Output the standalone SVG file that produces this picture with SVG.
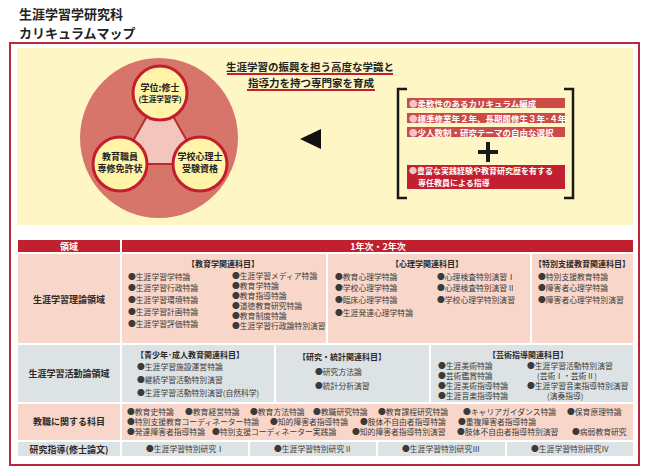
<svg xmlns="http://www.w3.org/2000/svg" width="650" height="472" viewBox="0 0 650 472">
<style>
text{font-family:"Noto Sans CJK JP","Noto Sans",sans-serif;}
.ttl{font-size:13px;font-weight:bold;fill:#222;}
.hl{font-size:10.5px;font-weight:bold;fill:#222;text-anchor:middle;}
.cir{font-size:9px;font-weight:bold;fill:#222;text-anchor:middle;}
.bar{font-size:8.5px;font-weight:bold;fill:#fff;}
.bar2{font-size:8px;font-weight:bold;fill:#fff;}
.bul{fill:#f6c6c6;}
.it{font-size:7.8px;fill:#3a3a3a;}
.hd{font-size:8px;font-weight:bold;fill:#2a2a2a;}
.hdm{font-size:8px;font-weight:bold;fill:#2a2a2a;text-anchor:middle;}
.lb{font-size:9px;font-weight:bold;fill:#2a2a2a;text-anchor:middle;}
.wh{font-size:9px;font-weight:bold;fill:#fff;text-anchor:middle;}
.pk{fill:#f8d6c9;}
.gy{fill:#dde2e4;}
.rb{fill:#c1202f;}
.ulh{stroke:#c1202f;stroke-width:2;}
.br{fill:none;stroke:#1a1a1a;stroke-width:2.5;}
.sc{fill:#fff4a8;stroke:#c41e2e;stroke-width:3;}
</style>

<g id="title">
<text class="ttl" x="19" y="19">生涯学習学研究科</text>
<text class="ttl" x="19" y="38">カリキュラムマップ</text>
</g>

<rect id="frame" x="10" y="43" width="629" height="422" fill="#fff" stroke="#b8283c" stroke-width="2"/>
<rect id="panel" x="17" y="48" width="616" height="177" fill="#fef6c5"/>

<g id="ellipse-group">
<ellipse cx="159" cy="138" rx="79" ry="80" fill="#d8756b"/>
</g>

<g id="connectors">
<polygon points="160,93 120,164 200,164" fill="#f3c6bd" stroke="#b72b35" stroke-width="2"/>
<polygon points="300,139 321,129 321,149" fill="#111"/>
</g>

<g id="node-degree">
<circle class="sc" cx="160" cy="93" r="27"/>
<text class="cir" x="160" y="91">学位:修士</text>
<text class="cir" x="160" y="102" style="font-size:7.5px">(生涯学習学)</text>
</g>
<g id="node-license">
<circle class="sc" cx="120" cy="164" r="27"/>
<text class="cir" x="120" y="160">教育職員</text>
<text class="cir" x="120" y="172">専修免許状</text>
</g>
<g id="node-psych">
<circle class="sc" cx="200" cy="164" r="27"/>
<text class="cir" x="200" y="160">学校心理士</text>
<text class="cir" x="200" y="172">受験資格</text>
</g>

<g id="headline">
<text class="hl" x="310" y="71">生涯学習の振興を担う高度な学識と</text>
<line class="ulh" x1="227" y1="74" x2="393" y2="74"/>
<text class="hl" x="311" y="87">指導力を持つ専門家を育成</text>
<line class="ulh" x1="247" y1="90" x2="375" y2="90"/>
</g>

<g id="features">
<path class="br" d="M407,89 H398 V198 H407"/>
<path class="br" d="M564,89 H573 V198 H564"/>
<rect x="407" y="98" width="158" height="10" fill="#cd4b47"/>
<text class="bar" x="409" y="106.5"><tspan class="bul">●</tspan>柔軟性のあるカリキュラム編成</text>
<rect x="407" y="113" width="158" height="10" fill="#cd4b47"/>
<text class="bar" x="409" y="121.5"><tspan class="bul">●</tspan>標準修業年２年、長期履修生３年･４年</text>
<rect x="407" y="127" width="158" height="10" fill="#cd4b47"/>
<text class="bar" x="409" y="135.5"><tspan class="bul">●</tspan>少人数制・研究テーマの自由な選択</text>
<rect x="478" y="150" width="20" height="4" fill="#1a1a1a"/>
<rect x="486" y="142" width="4" height="20" fill="#1a1a1a"/>
<rect x="407" y="165" width="158" height="24" fill="#c21f30"/>
<text class="bar2" x="409" y="174"><tspan class="bul">●</tspan>豊富な実践経験や教育研究歴を有する</text>
<text class="bar2" x="418" y="185.8">専任教員による指導</text>
</g>

<g id="table-header">
<rect class="rb" x="18" y="240" width="102" height="12"/>
<rect class="rb" x="122" y="240" width="511" height="12"/>
<text class="wh" x="69" y="249.5">領域</text>
<text class="wh" x="378" y="249.5">1年次・2年次</text>
</g>

<g id="row-theory">
<rect class="pk" x="18" y="254" width="102" height="89"/>
<rect class="pk" x="122" y="254" width="204" height="89"/>
<rect class="pk" x="328" y="254" width="202" height="89"/>
<rect class="pk" x="532" y="254" width="101" height="89"/>
<text class="lb" x="69" y="303">生涯学習理論領域</text>
<text class="hdm" x="223" y="267">【教育学関連科目】</text>
<text class="it" x="128" y="280">●生涯学習学特論</text>
<text class="it" x="128" y="291">●生涯学習行政特論</text>
<text class="it" x="128" y="303">●生涯学習環境特論</text>
<text class="it" x="128" y="315">●生涯学習計画特論</text>
<text class="it" x="128" y="327">●生涯学習評価特論</text>
<text class="it" x="232" y="279">●生涯学習メディア特論</text>
<text class="it" x="232" y="289">●教育学特論</text>
<text class="it" x="232" y="299">●教育指導特論</text>
<text class="it" x="232" y="309">●道徳教育研究特論</text>
<text class="it" x="232" y="319">●教育制度特論</text>
<text class="it" x="232" y="329">●生涯学習行政論特別演習</text>
<text class="hdm" x="427" y="267">【心理学関連科目】</text>
<text class="it" x="335" y="280">●教育心理学特論</text>
<text class="it" x="335" y="291">●学校心理学特論</text>
<text class="it" x="335" y="303">●臨床心理学特論</text>
<text class="it" x="335" y="316">●生涯発達心理学特論</text>
<text class="it" x="437" y="280">●心理検査特別演習Ⅰ</text>
<text class="it" x="437" y="291">●心理検査特別演習Ⅱ</text>
<text class="it" x="437" y="303">●学校心理学特別演習</text>
<text class="hdm" x="582" y="267">【特別支援教育関連科目】</text>
<text class="it" x="538" y="280">●特別支援教育特論</text>
<text class="it" x="538" y="291">●障害者心理学特論</text>
<text class="it" x="538" y="303">●障害者心理学特別演習</text>
</g>

<g id="row-activity">
<rect class="gy" x="18" y="345" width="102" height="57"/>
<rect class="gy" x="122" y="345" width="152" height="57"/>
<rect class="gy" x="276" y="345" width="153" height="57"/>
<rect class="gy" x="431" y="345" width="202" height="57"/>
<text class="lb" x="69" y="377">生涯学習活動論領域</text>
<text class="hd" x="136" y="358">【青少年･成人教育関連科目】</text>
<text class="it" x="137" y="370">●生涯学習施設運営特論</text>
<text class="it" x="137" y="383">●継続学習活動特別演習</text>
<text class="it" x="137" y="396">●生涯学習活動特別演習(自然科学)</text>
<text class="hdm" x="342" y="360">【研究・統計関連科目】</text>
<text class="it" x="315" y="375">●研究方法論</text>
<text class="it" x="315" y="389">●統計分析演習</text>
<text class="hdm" x="528" y="358">【芸術指導関連科目】</text>
<text class="it" x="438" y="369">●生涯美術特論</text>
<text class="it" x="438" y="379">●芸術鑑賞特論</text>
<text class="it" x="438" y="389">●生涯美術指導特論</text>
<text class="it" x="438" y="399">●生涯音楽指導特論</text>
<text class="it" x="527" y="369">●生涯学習活動特別演習</text>
<text class="it" x="537" y="379">(芸術Ⅰ・芸術Ⅱ)</text>
<text class="it" x="527" y="389">●生涯学習音楽指導特別演習</text>
<text class="it" x="547" y="399">(演奏指導)</text>
</g>

<g id="row-teaching">
<rect class="pk" x="18" y="404" width="102" height="36"/>
<rect class="pk" x="122" y="404" width="511" height="36"/>
<text class="lb" x="69" y="425">教職に関する科目</text>
<text class="it" x="127" y="415">●教育史特論</text>
<text class="it" x="185" y="415">●教育経営特論</text>
<text class="it" x="250" y="415">●教育方法特論</text>
<text class="it" x="313" y="415">●教職研究特論</text>
<text class="it" x="378" y="415">●教育課程研究特論</text>
<text class="it" x="463" y="415">●キャリアガイダンス特論</text>
<text class="it" x="567" y="415">●保育原理特論</text>
<text class="it" x="127" y="425">●特別支援教育コーディネーター特論</text>
<text class="it" x="270" y="425">●知的障害者指導特論</text>
<text class="it" x="360" y="425">●肢体不自由者指導特論</text>
<text class="it" x="458" y="425">●重複障害者指導特論</text>
<text class="it" x="127" y="435">●発達障害者指導特論</text>
<text class="it" x="212" y="435">●特別支援コーディネーター実践論</text>
<text class="it" x="352" y="435">●知的障害者指導特別演習</text>
<text class="it" x="457" y="435">●肢体不自由者指導特別演習</text>
<text class="it" x="572" y="435">●病弱教育研究</text>
</g>

<g id="row-research">
<rect class="gy" x="18" y="442" width="102" height="14"/>
<rect class="gy" x="122" y="442" width="126" height="14"/>
<rect class="gy" x="250" y="442" width="126" height="14"/>
<rect class="gy" x="378" y="442" width="127" height="14"/>
<rect class="gy" x="507" y="442" width="126" height="14"/>
<text class="lb" x="69" y="452.5">研究指導(修士論文)</text>
<text class="it" x="185" y="452" text-anchor="middle">●生涯学習特別研究Ⅰ</text>
<text class="it" x="313" y="452" text-anchor="middle">●生涯学習特別研究Ⅱ</text>
<text class="it" x="441" y="452" text-anchor="middle">●生涯学習特別研究Ⅲ</text>
<text class="it" x="570" y="452" text-anchor="middle">●生涯学習特別研究Ⅳ</text>
</g>
</svg>
